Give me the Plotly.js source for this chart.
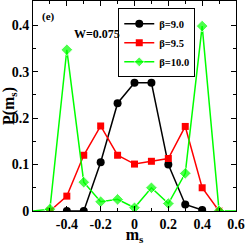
<!DOCTYPE html>
<html><head><meta charset="utf-8">
<script src="https://cdn.plot.ly/plotly-3.0.1.min.js"></script>
<style>body{margin:0;padding:0;background:#fff}#chart{width:245px;height:245px}</style>
</head><body><div id="chart"></div>
<script>
var msBlack = [-0.4, -0.3, -0.2, -0.1, 0.0, 0.1, 0.2, 0.3, 0.4];
var pBeta90 = [0.0, 0.0, 0.105, 0.232, 0.276, 0.276, 0.10, 0.014, 0.002];
var msRed = [-0.5, -0.4, -0.3, -0.2, -0.1, 0.0, 0.1, 0.2, 0.3, 0.4, 0.5];
var pBeta95 = [0.0, 0.032, 0.12, 0.183, 0.12, 0.101, 0.107, 0.113, 0.182, 0.05, 0.0];
var msGreen = [-0.6, -0.5, -0.4, -0.3, -0.2, -0.1, 0.0, 0.1, 0.2, 0.3, 0.4, 0.5, 0.6];
var pBeta100 = [0.0, 0.004, 0.347, 0.062, 0.02, 0.025, 0.007, 0.05, 0.016, 0.081, 0.398, 0.0, 0.0];
var seriesNames = ['β=9.0', 'β=9.5', 'β=10.0'];
var xTickVals = [-0.4, -0.2, 0, 0.2, 0.4, 0.6];
var xTickText = ['-0.4', '-0.2', '0', '0.2', '0.4', '0.6'];
var yTickVals = [0, 0.1, 0.2, 0.3, 0.4];
var yTickText = ['0', '0.1', '0.2', '0.3', '0.4'];

var serif = 'Liberation Serif, Times New Roman, serif';
var greenSizes = msGreen.map(function(v){ return Math.abs(v) > 0.55 ? 0 : 9; });

var traces = [
  {x: msBlack, y: pBeta90, name: seriesNames[0], mode: 'lines+markers',
   line: {color: '#000000', width: 1.5}, marker: {symbol: 'circle', size: 8, color: '#000000'}},
  {x: msRed, y: pBeta95, name: seriesNames[1], mode: 'lines+markers',
   line: {color: '#ff0000', width: 1.5}, marker: {symbol: 'square', size: 7, color: '#ff0000'}},
  {x: msGreen, y: pBeta100, name: seriesNames[2], mode: 'lines+markers',
   line: {color: '#00ff00', width: 1.5}, marker: {symbol: 'diamond', size: greenSizes, color: '#00ff00'}}
];

var axisCommon = {
  showline: true, linecolor: '#000', linewidth: 1, mirror: 'allticks',
  ticks: 'inside', ticklen: 5, tickcolor: '#000', tickwidth: 1,
  showgrid: false, zeroline: false,
  tickfont: {family: serif, size: 14, color: '#000', weight: 'bold'}
};

var layout = {
  width: 245, height: 245,
  margin: {l: 33, r: 9, t: 1, b: 34},
  paper_bgcolor: '#fff', plot_bgcolor: '#fff',
  showlegend: true,
  legend: {x: 0.42, y: 0.965, xanchor: 'left', yanchor: 'top',
    bgcolor: '#fff', bordercolor: '#000', borderwidth: 1,
    font: {family: serif, size: 10.5, color: '#000', weight: 'bold'},
    itemwidth: 30, tracegroupgap: 0},
  xaxis: Object.assign({}, axisCommon, {
    range: [-0.6, 0.6], tickmode: 'array', tickvals: xTickVals, ticktext: xTickText,
    minor: {dtick: 0.1, tick0: 0, ticks: 'inside', ticklen: 3, tickcolor: '#000'},
    title: {text: 'm<sub>s</sub>', font: {family: serif, size: 16, color: '#000', weight: 'bold'}, standoff: 6}
  }),
  yaxis: Object.assign({}, axisCommon, {
    range: [0, 0.452], tickmode: 'array', tickvals: yTickVals, ticktext: yTickText,
    minor: {dtick: 0.05, tick0: 0, ticks: 'inside', ticklen: 3, tickcolor: '#000'},
    title: {text: 'P(m<sub>s</sub>)', font: {family: serif, size: 16, color: '#000', weight: 'bold'}, standoff: 2}
  }),
  annotations: [
    {text: '(e)', xref: 'paper', yref: 'paper', x: 0.035, y: 0.965, xanchor: 'left', yanchor: 'top',
     showarrow: false, font: {family: serif, size: 11, color: '#000', weight: 'bold'}},
    {text: 'W=0.075', xref: 'paper', yref: 'paper', x: 0.19, y: 0.885, xanchor: 'left', yanchor: 'top',
     showarrow: false, font: {family: serif, size: 12, color: '#000', weight: 'bold'}}
  ]
};

Plotly.newPlot('chart', traces, layout, {displayModeBar: false, staticPlot: true});
</script>
</body></html>
